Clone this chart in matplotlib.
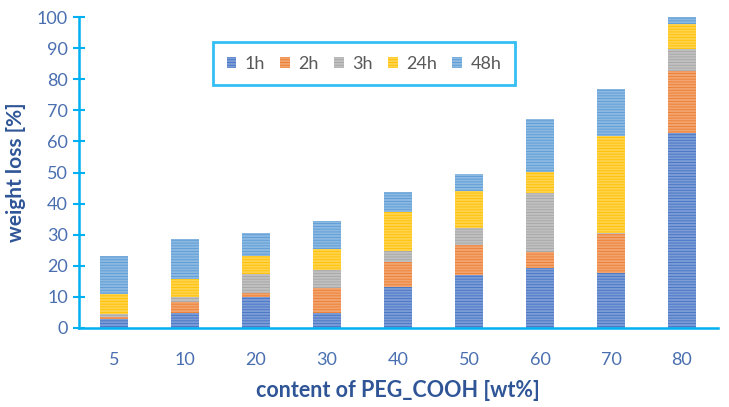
import matplotlib
matplotlib.use("Agg")
import matplotlib.pyplot as plt
import numpy as np
from matplotlib.colors import to_rgb

plt.rcParams['font.family'] = ['Lato', 'DejaVu Sans']
plt.rcParams['hatch.linewidth'] = 0.6

categories = ["5", "10", "20", "30", "40", "50", "60", "70", "80"]
series_names = ["1h", "2h", "3h", "24h", "48h"]
v_1h = [2.8, 4.7, 9.9, 4.7, 13.3, 16.9, 19.4, 17.6, 62.6]
v_2h = [0.8, 3.6, 1.3, 8.1, 8.0, 9.8, 5.1, 12.6, 19.9]
v_3h = [0.9, 1.6, 6.2, 5.8, 3.6, 5.6, 18.8, 0.3, 7.1]
v_24h = [6.4, 5.9, 5.9, 6.7, 12.5, 11.8, 6.8, 31.3, 8.0]
v_48h = [12.4, 12.8, 7.2, 9.2, 6.4, 5.4, 17.1, 15.0, 2.4]
series = [v_1h, v_2h, v_3h, v_24h, v_48h]
colors = ["#4472C4", "#ED7D31", "#A5A5A5", "#FFC000", "#5B9BD5"]

def lighten(c, f):
    r, g, b = to_rgb(c)
    return (r + (1 - r) * f, g + (1 - g) * f, b + (1 - b) * f)

fig = plt.figure(figsize=(7.29, 4.07), dpi=100)
ax = fig.add_axes([78.5 / 729, 1 - 328 / 407, 639 / 729, 311 / 407])

x = np.arange(len(categories))
bottom = np.zeros(len(categories))
handles = []
for name, vals, c in zip(series_names, series, colors):
    vals = np.array(vals)
    b = ax.bar(x, vals, 0.4, bottom=bottom, facecolor=lighten(c, 0.3),
               edgecolor=c, hatch='------', linewidth=0, label=name)
    bottom += vals
    handles.append(b)

ax.set_xlim(-0.5, len(categories) - 0.5)
ax.set_ylim(0, 100)
ax.set_yticks(np.arange(0, 101, 10))
ax.set_xticks(x)
ax.set_xticklabels(categories)

spine_col = "#00B0F0"
for s in ['top', 'right']:
    ax.spines[s].set_visible(False)
ax.spines['left'].set_color(spine_col)
ax.spines['left'].set_linewidth(1.8)
ax.spines['bottom'].set_color(spine_col)
ax.spines['bottom'].set_linewidth(1.8)

tick_col = "#4A6FB0"
ax.tick_params(axis='y', direction='inout', length=9, width=1.5, color=spine_col,
               labelcolor=tick_col, labelsize=13, pad=3)
ax.tick_params(axis='x', length=0, labelcolor=tick_col, labelsize=13, pad=17)

lab_col = "#2F5597"
ax.set_ylabel("weight loss [%]", fontsize=15, fontweight='bold', color=lab_col, labelpad=8)
ax.set_xlabel("content of PEG_COOH [wt%]", fontsize=15.5, fontweight='bold', color=lab_col, labelpad=9)

leg = ax.legend(handles=handles, labels=series_names, ncol=5, loc='upper left',
                bbox_to_anchor=((213 - 78.5) / 639, 1 - (42 - 17) / 311),
                frameon=True, fancybox=False, fontsize=13, handlelength=0.55,
                handleheight=0.55, columnspacing=0.85, handletextpad=0.45,
                borderpad=0.75, borderaxespad=0, labelcolor="#595959")
leg.get_frame().set_edgecolor(spine_col)
leg.get_frame().set_linewidth(2)

fig.savefig("out.png", dpi=100)
